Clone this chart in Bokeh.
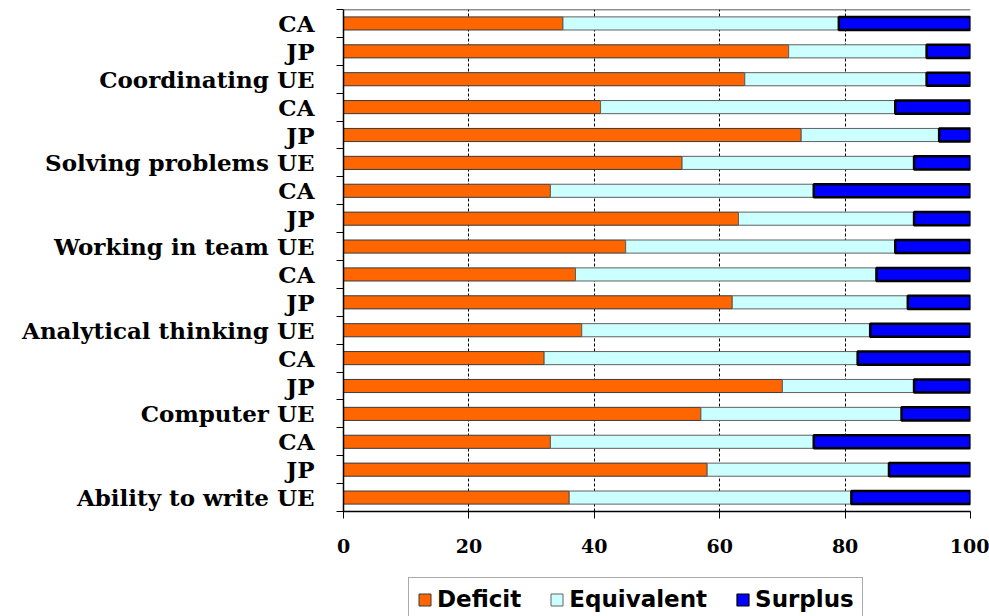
from bokeh.plotting import figure
from bokeh.layouts import column
from bokeh.models import FixedTicker, Range1d, Legend, LegendItem, Span
from bokeh.embed import file_html
from bokeh.resources import INLINE

# Rows listed top to bottom
labels = ["CA", "JP", "Coordinating UE",
          "CA", "JP", "Solving problems UE",
          "CA", "JP", "Working in team UE",
          "CA", "JP", "Analytical thinking UE",
          "CA", "JP", "Computer UE",
          "CA", "JP", "Ability to write UE"]
deficit    = [35, 71, 64, 41, 73, 54, 33, 63, 45, 37, 62, 38, 32, 70, 57, 33, 58, 36]
equivalent = [44, 22, 29, 47, 22, 37, 42, 28, 43, 48, 28, 46, 50, 21, 32, 42, 29, 45]
surplus    = [21,  7,  7, 12,  5,  9, 25,  9, 12, 15, 10, 16, 18,  9, 11, 25, 13, 19]
series = ["Deficit", "Equivalent", "Surplus"]
x_ticks = [0, 20, 40, 60, 80, 100]

colors = ["#FF6600", "#CCFFFF", "#0000FF"]
edge_colors = ["#3a3a3a", "#606060", "#000000"]
edge_widths = [1, 1, 2.5]

n = len(labels)
ys = list(range(n, 0, -1))
eq_right = [d + e for d, e in zip(deficit, equivalent)]
su_right = [r + s for r, s in zip(eq_right, surplus)]
lefts = [[0] * n, deficit, eq_right]
rights = [deficit, eq_right, su_right]

p = figure(width=989, height=571, output_backend="svg", toolbar_location=None,
           x_range=Range1d(0, 100), y_range=Range1d(0.5, n + 0.5),
           min_border_left=343, min_border_right=19, min_border_top=9,
           min_border_bottom=60)

bh = 0.47
for i in range(3):
    p.hbar(y=ys, left=lefts[i], right=rights[i], height=bh, fill_color=colors[i],
           line_color=edge_colors[i], line_width=edge_widths[i])

p.outline_line_color = None
p.add_layout(Span(location=n + 0.5, dimension="width", line_color="#222222", line_width=1.5))

# grid
p.ygrid.grid_line_color = None
p.xgrid.ticker = FixedTicker(ticks=x_ticks)
p.xgrid.grid_line_color = "#000000"
p.xgrid.grid_line_dash = "3 2"
p.xgrid.grid_line_width = 1

# x axis
p.xaxis.ticker = FixedTicker(ticks=x_ticks)
p.xaxis.major_label_text_font = "DejaVu Serif"
p.xaxis.major_label_text_font_style = "bold"
p.xaxis.major_label_text_font_size = "19px"
p.xaxis.major_label_text_color = "#000000"
p.xaxis.major_label_standoff = 20
p.xaxis.major_tick_in = 0
p.xaxis.major_tick_out = 7
p.xaxis.minor_tick_out = 0
p.xaxis.axis_line_color = "#000000"
p.xaxis.axis_line_width = 1.5

# y axis
p.yaxis.ticker = FixedTicker(ticks=ys, minor_ticks=[i + 0.5 for i in range(0, n + 1)])
p.yaxis.major_label_overrides = {y: lab for y, lab in zip(ys, labels)}
p.yaxis.major_label_text_font = "DejaVu Serif"
p.yaxis.major_label_text_font_style = "bold"
p.yaxis.major_label_text_font_size = "23px"
p.yaxis.major_label_text_color = "#000000"
p.yaxis.major_label_standoff = 22
p.yaxis.major_tick_in = 0
p.yaxis.major_tick_out = 0
p.yaxis.minor_tick_in = 0
p.yaxis.minor_tick_out = 7
p.yaxis.minor_tick_line_color = "#000000"
p.yaxis.axis_line_color = "#000000"
p.yaxis.axis_line_width = 1.5

# legend strip (hidden copies of the series provide the legend swatches)
p2 = figure(width=989, height=45, output_backend="svg", toolbar_location=None,
            x_range=Range1d(0, 100), y_range=Range1d(0.5, n + 0.5),
            min_border_left=343, min_border_right=19, min_border_top=0, min_border_bottom=0)
p2.axis.visible = False
p2.grid.grid_line_color = None
p2.outline_line_color = None
items = []
for i in range(3):
    r = p2.hbar(y=ys, left=lefts[i], right=rights[i], height=bh, fill_color=colors[i],
                line_color=edge_colors[i], line_width=min(edge_widths[i], 1.2))
    r.visible = False
    items.append(LegendItem(label=series[i], renderers=[r]))

legend = Legend(items=items, orientation="horizontal", location=(65, -5))
legend.label_text_font = "DejaVu Sans"
legend.label_text_font_style = "bold"
legend.label_text_font_size = "23px"
legend.label_text_color = "#000000"
legend.glyph_width = 15
legend.glyph_height = 15
legend.label_standoff = 5
legend.spacing = 28
legend.padding = 8
legend.margin = 0
legend.border_line_color = "#555555"
legend.border_line_width = 1
legend.background_fill_alpha = 1
legend.inactive_fill_alpha = 0
p2.add_layout(legend, "center")

layout = column(p, p2, spacing=0)
open("out.html", "w").write(file_html(layout, INLINE))
